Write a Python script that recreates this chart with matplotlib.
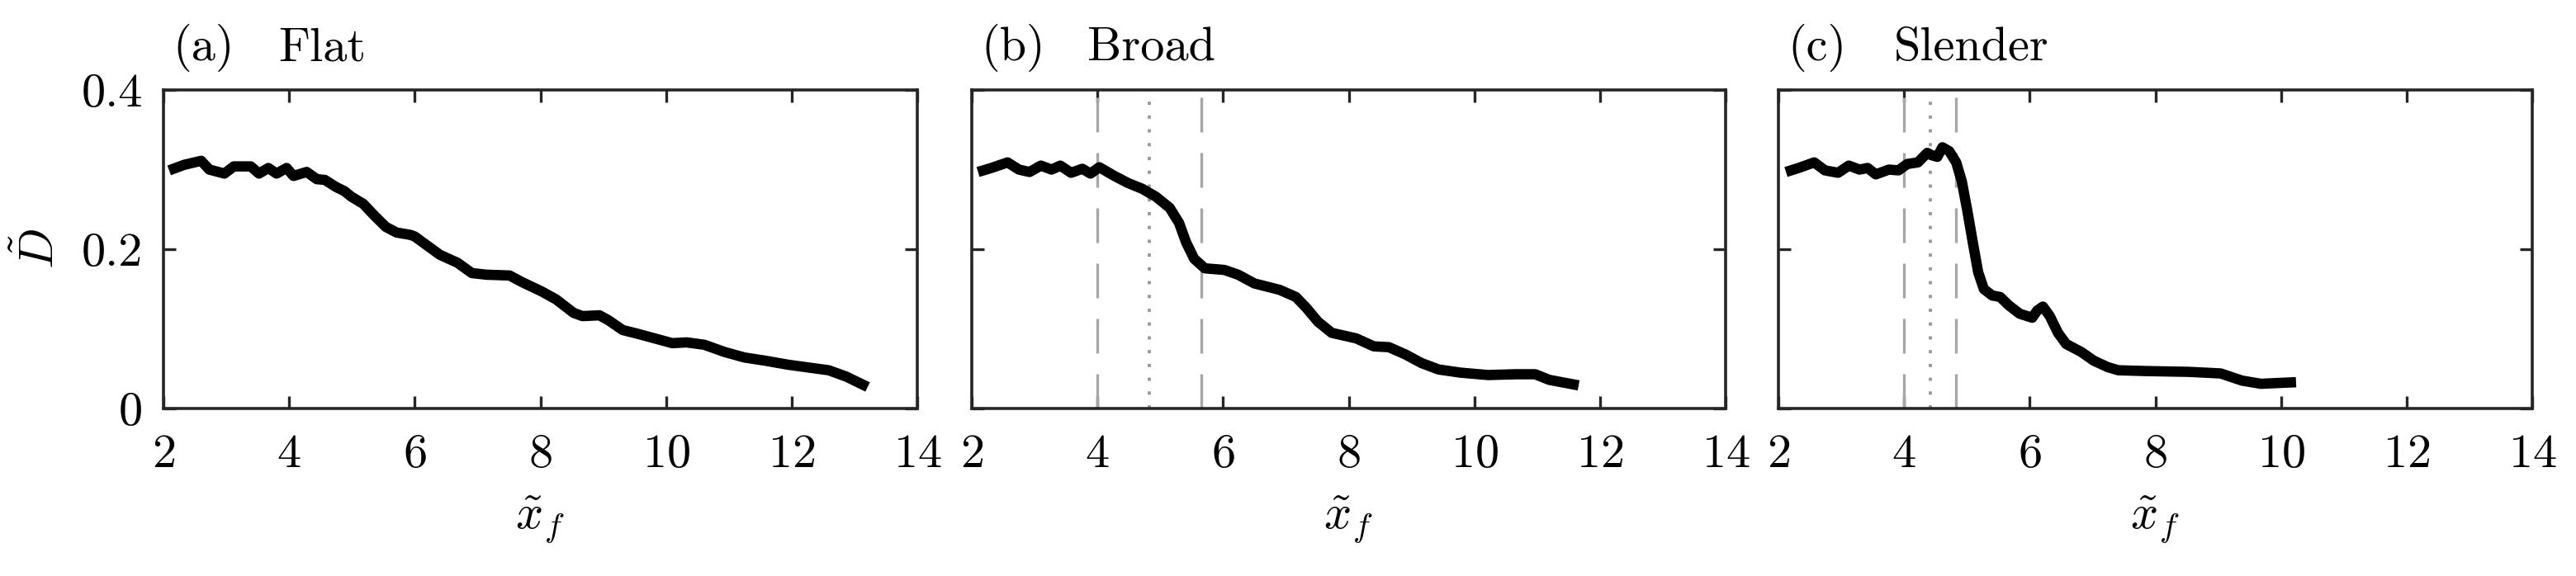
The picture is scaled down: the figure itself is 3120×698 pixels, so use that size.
import matplotlib
matplotlib.use('Agg')
import matplotlib.pyplot as plt

plt.rcParams['font.family'] = 'serif'
plt.rcParams['font.serif'] = ['cmr10', 'DejaVu Serif']
plt.rcParams['mathtext.fontset'] = 'cm'
plt.rcParams['axes.formatter.use_mathtext'] = True
plt.rcParams['font.size'] = 21

# panel (a) flat
x_flat = [2.09, 2.33, 2.60, 2.73, 2.97, 3.12, 3.39, 3.52, 3.67, 3.80, 3.96, 4.07,
          4.28, 4.44, 4.57, 4.75, 4.88, 4.99, 5.18, 5.36, 5.54, 5.71, 5.93, 6.00,
          6.40, 6.68, 6.91, 7.14, 7.51, 7.70, 8.02, 8.25, 8.53, 8.67, 8.94, 9.08,
          9.31, 9.54, 9.82, 10.10, 10.33, 10.61, 10.93, 11.25, 11.58, 11.94, 12.31,
          12.59, 12.87, 13.21]
d_flat = [0.299, 0.306, 0.311, 0.300, 0.295, 0.304, 0.304, 0.295, 0.302, 0.295, 0.302, 0.292,
          0.297, 0.288, 0.287, 0.278, 0.273, 0.266, 0.257, 0.242, 0.228, 0.221, 0.218, 0.216,
          0.193, 0.183, 0.170, 0.168, 0.167, 0.159, 0.147, 0.137, 0.120, 0.116, 0.117, 0.111,
          0.0985, 0.094, 0.088, 0.082, 0.083, 0.080, 0.071, 0.064, 0.060, 0.055, 0.051,
          0.048, 0.040, 0.027]

# panel (b) broad
x_broad = [2.10, 2.31, 2.57, 2.75, 2.92, 3.10, 3.27, 3.41, 3.58, 3.76, 3.89, 4.03,
           4.27, 4.49, 4.71, 4.93, 5.15, 5.30, 5.41, 5.54, 5.71, 6.02, 6.24, 6.50,
           6.90, 7.16, 7.33, 7.51, 7.73, 8.12, 8.40, 8.64, 8.90, 9.16, 9.43, 9.78,
           10.22, 10.66, 10.97, 11.19, 11.66]
d_broad = [0.297, 0.302, 0.309, 0.300, 0.297, 0.305, 0.300, 0.305, 0.296, 0.301, 0.295, 0.303,
           0.292, 0.283, 0.276, 0.266, 0.252, 0.233, 0.209, 0.188, 0.176, 0.174, 0.168, 0.157,
           0.149, 0.140, 0.126, 0.109, 0.095, 0.088, 0.078, 0.077, 0.068, 0.057, 0.049, 0.045,
           0.042, 0.043, 0.043, 0.036, 0.029]

# panel (c) slender
x_slender = [2.12, 2.32, 2.57, 2.74, 2.95, 3.12, 3.29, 3.42, 3.55, 3.76, 3.91, 4.05,
             4.22, 4.37, 4.44, 4.53, 4.61, 4.72, 4.83, 4.92, 5.01, 5.10, 5.18, 5.27,
             5.40, 5.53, 5.66, 5.84, 6.04, 6.12, 6.21, 6.32, 6.45, 6.58, 6.82, 7.02,
             7.24, 7.41, 7.85, 8.53, 9.04, 9.38, 9.68, 10.24]
d_slender = [0.297, 0.302, 0.309, 0.299, 0.296, 0.305, 0.300, 0.302, 0.294, 0.300, 0.299, 0.307,
             0.309, 0.321, 0.318, 0.316, 0.328, 0.323, 0.309, 0.285, 0.247, 0.206, 0.171, 0.150,
             0.142, 0.140, 0.130, 0.119, 0.114, 0.123, 0.128, 0.116, 0.095, 0.081, 0.071, 0.060,
             0.052, 0.048, 0.047, 0.046, 0.044, 0.035, 0.031, 0.033]

panel_tags = ['(a)', '(b)', '(c)']
panel_names = ['Flat', 'Broad', 'Slender']
dashed_x = [[], [4.0, 5.66], [4.0, 4.83]]
dotted_x = [[], [4.82], [4.42]]

x_ticks = [2, 4, 6, 8, 10, 12, 14]
y_ticks = [0, 0.2, 0.4]
y_ticklabels = ['0', '0.2', '0.4']

xs = [x_flat, x_broad, x_slender]
ds = [d_flat, d_broad, d_slender]

fig = plt.figure(figsize=(15.6, 3.49), dpi=200)
lefts = [198 / 3120, 1177 / 3120, 2154 / 3120]
spine_col = '#262626'

for i in range(3):
    ax = fig.add_axes([lefts[i], 1 - 495 / 698, 913 / 3120, 386 / 698])
    for xv in dashed_x[i]:
        ax.axvline(xv, color='#a6a6a6', lw=1.2, linestyle=(0, (12.6, 7.5)))
    for xv in dotted_x[i]:
        ax.axvline(xv, color='#999999', lw=1.4, linestyle=(0, (1, 3.3)))
    ax.plot(xs[i], ds[i], color='black', lw=4.5, solid_capstyle='butt',
            solid_joinstyle='round')
    ax.set_xlim(2, 14)
    ax.set_ylim(0, 0.4)
    ax.set_xticks(x_ticks)
    ax.set_yticks(y_ticks)
    if i == 0:
        ax.set_yticklabels(y_ticklabels)
        ax.set_ylabel(r'$\tilde{D}$', labelpad=8)
    else:
        ax.set_yticklabels([])
    ax.set_xlabel(r'$\tilde{x}_f$', labelpad=8)
    ax.tick_params(direction='in', top=True, right=True, length=5.4, width=1.2,
                   color=spine_col)
    ax.tick_params(axis='x', pad=11)
    ax.tick_params(axis='y', pad=9)
    for s in ax.spines.values():
        s.set_color(spine_col)
        s.set_linewidth(1.3)
    ax.text(0.013, 1.093, panel_tags[i], transform=ax.transAxes, va='baseline')
    ax.text(0.153, 1.093, panel_names[i], transform=ax.transAxes, va='baseline')

fig.savefig('out.png', dpi=200)
